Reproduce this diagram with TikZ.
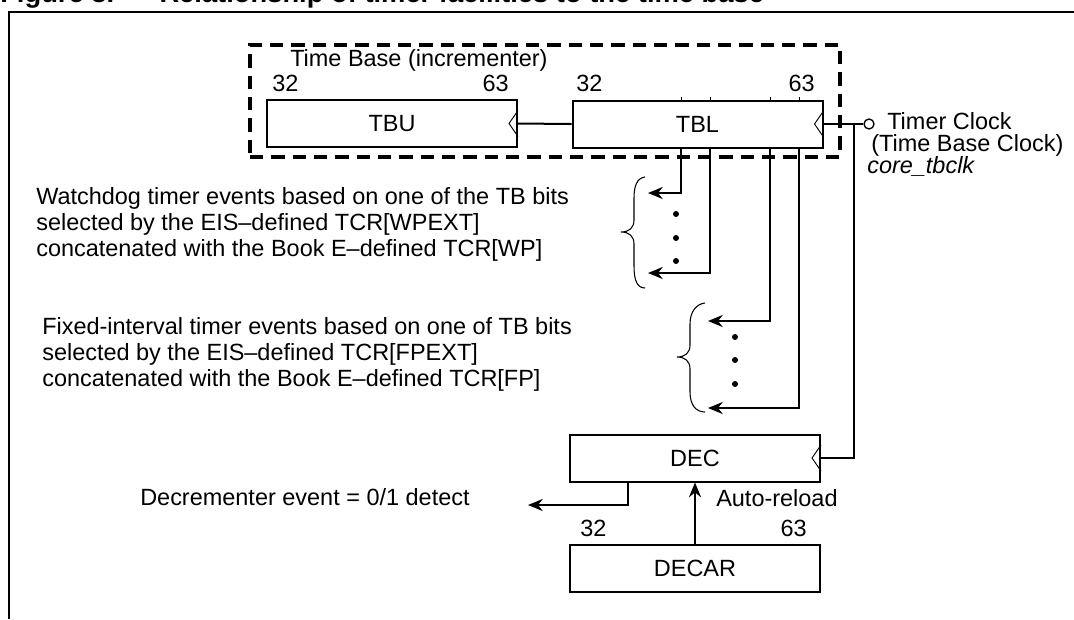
\documentclass[tikz,border=0pt]{standalone}
\usepackage{fontspec}
\setmainfont{Liberation Sans}
\usetikzlibrary{arrows.meta,calc}
\newcommand\txtfont{\fontsize{17.6}{19.5}\selectfont}
\newcommand\ttlfont{\fontsize{20.5}{24}\selectfont\bfseries}
\begin{document}
\begin{tikzpicture}[x=0.75pt,y=-0.75pt,
  reg/.style={draw,line width=1.5pt,minimum width=187.5pt,minimum height=35.25pt,inner sep=0pt,font=\txtfont},
  lbl/.style={inner sep=0pt,font=\txtfont},
  wire/.style={line width=1.5pt},
  arr/.style={line width=1.5pt,-{Stealth[length=11pt,width=9pt,inset=3.5pt]}},
  clkmark/.style={line width=0.7pt},
  brc/.style={line width=0.8pt},
  tick/.style={line width=0.7pt},
  dot/.style={circle,fill,inner sep=0pt,minimum size=4.5pt}
]
\useasboundingbox (0,0) rectangle (1074,619);

% caption (its upper part lies above the page)
\node[anchor=base west,inner sep=0pt,font=\ttlfont] (cap) at (0,2)
  {Figure 8.\hspace{34pt}Relationship of timer facilities to the time base};

% frame
\draw[line width=1.5pt] (9,619) -- (9,12) -- (1074,12);

% time base registers
\node[draw,line width=2.4pt,dash pattern=on 10pt off 6pt,minimum width=442.5pt,minimum height=84pt,inner sep=0pt] (tbox) at (545,101) {};
\node[reg] (TBU) at (392,123.5) {TBU};
\node[reg] (TBL) at (697.5,124) {TBL};
\node[lbl,anchor=base west] (tbname) at (290,66) {Time Base (incrementer)};
\node[lbl,anchor=base west] (u32) at (272,91) {32};
\node[lbl,anchor=base east] (u63) at (509,91) {63};
\node[lbl,anchor=base west] (l32) at (576,91) {32};
\node[lbl,anchor=base east] (l63) at (815,91) {63};

% clock inputs
\draw[clkmark] (TBU.east) ++(0,-13) -- ++(-9,13) -- ++(9,13);
\draw[clkmark] (TBL.east) ++(0,-13) -- ++(-9,13) -- ++(9,13);

% carry from TBL to TBU
\draw[wire] (TBL.west) -- (TBU.east);

% timer clock input
\node[circle,draw,line width=1pt,minimum size=7.5pt,inner sep=0pt] (clk) at (869,124) {};
\coordinate (junc) at (854,124);
\draw[wire] (TBL.east) -- (clk.west);
\node[inner sep=0pt,anchor=north west,align=left,font=\fontsize{17.6}{16.5}\selectfont] (clktxt) at (867,112)
  {\hspace{15pt}Timer Clock\\
   \hspace{3pt}(Time Base Clock)\\
   \itshape core\_tbclk};

% bit taps on TBL
\foreach \t/\xx in {t1/681,t2/710,t3/770,t4/799}{
  \coordinate (\t) at (\xx,148);
  \draw[tick] (\xx,97) -- (\xx,100);
}

% watchdog events
\coordinate (wdA) at (648,193);
\coordinate (wdB) at (648,273);
\draw[arr] (t1) |- (wdA);
\draw[arr] (t2) |- (wdB);
\node[dot] (wd1) at (676,214) {};
\node[dot] (wd2) at (676,238) {};
\node[dot] (wd3) at (676,261) {};
\draw[brc] (645,177) .. controls (637,178) and (634,186) .. (634,198) -- (634,220)
  .. controls (634,228) and (629,232) .. (621,232)
  .. controls (629,232) and (634,236) .. (634,244) -- (634,266)
  .. controls (634,280) and (637,288) .. (645,288);
\node[lbl,anchor=west,align=left] (wdtxt) at (36,224)
  {Watchdog timer events based on one of the TB bits\\
   selected by the EIS--defined TCR[WPEXT]\\
   concatenated with the Book E--defined TCR[WP]};

% fixed-interval events
\coordinate (fiA) at (708,321);
\coordinate (fiB) at (708,408);
\draw[arr] (t3) |- (fiA);
\draw[arr] (t4) |- (fiB);
\node[dot] (fi1) at (735,337) {};
\node[dot] (fi2) at (735,360) {};
\node[dot] (fi3) at (735,384) {};
\draw[brc] (705,303) .. controls (696,304) and (690,312) .. (690,324) -- (690,345)
  .. controls (690,353) and (685,357) .. (677,357)
  .. controls (685,357) and (690,361) .. (690,369) -- (690,392)
  .. controls (690,405) and (696,412) .. (705,412);
\node[lbl,anchor=west,align=left] (fitxt) at (42,354)
  {Fixed-interval timer events based on one of TB bits\\
   selected by the EIS--defined TCR[FPEXT]\\
   concatenated with the Book E--defined TCR[FP]};

% decrementer
\node[reg] (DEC) at (695,458) {DEC};
\node[reg] (DECAR) at (695,568) {DECAR};
\draw[clkmark] (DEC.east) ++(0,-13) -- ++(-9,13) -- ++(9,13);
\draw[wire] (junc) |- (DEC.east);
\coordinate (dtap) at (628,481);
\coordinate (dout) at (528,505);
\draw[arr] (dtap) |- (dout);
\node[lbl,anchor=west] (dectxt) at (140,497) {Decrementer event = 0/1 detect};
\draw[arr] (DECAR.north) -- (DEC.south);
\node[lbl,anchor=west] (reload) at (716,498) {Auto-reload};
\node[lbl,anchor=base west] (d32) at (580,536) {32};
\node[lbl,anchor=base east] (d63) at (807,536) {63};
\end{tikzpicture}
\end{document}
